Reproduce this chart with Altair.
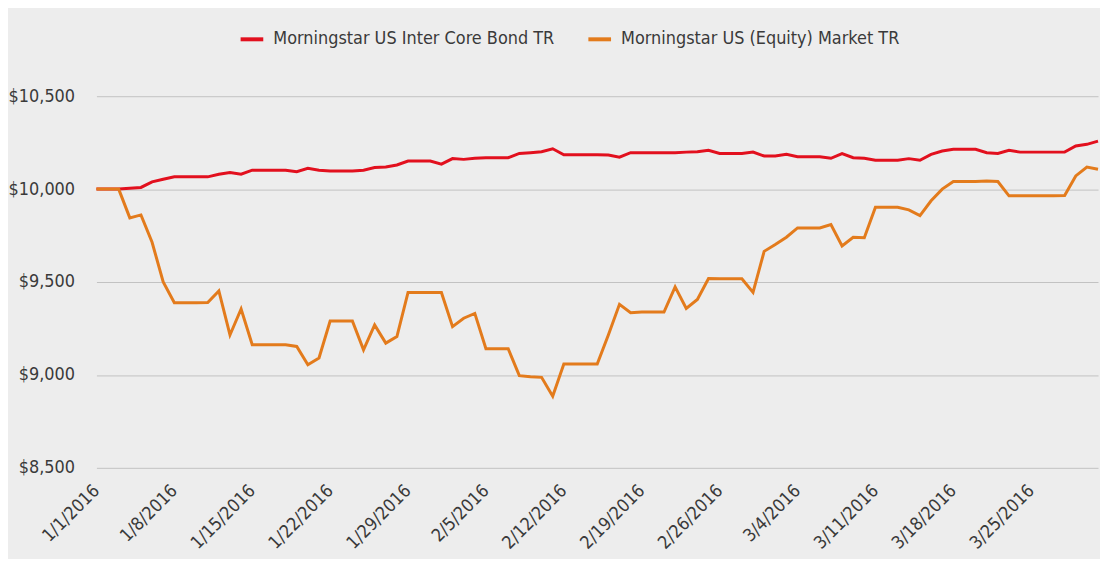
import altair as alt
import pandas as pd

DATES = [
    "2016/01/01", "2016/01/02", "2016/01/03", "2016/01/04", "2016/01/05", "2016/01/06", "2016/01/07",
    "2016/01/08", "2016/01/09", "2016/01/10", "2016/01/11", "2016/01/12", "2016/01/13", "2016/01/14",
    "2016/01/15", "2016/01/16", "2016/01/17", "2016/01/18", "2016/01/19", "2016/01/20", "2016/01/21",
    "2016/01/22", "2016/01/23", "2016/01/24", "2016/01/25", "2016/01/26", "2016/01/27", "2016/01/28",
    "2016/01/29", "2016/01/30", "2016/01/31", "2016/02/01", "2016/02/02", "2016/02/03", "2016/02/04",
    "2016/02/05", "2016/02/06", "2016/02/07", "2016/02/08", "2016/02/09", "2016/02/10", "2016/02/11",
    "2016/02/12", "2016/02/13", "2016/02/14", "2016/02/15", "2016/02/16", "2016/02/17", "2016/02/18",
    "2016/02/19", "2016/02/20", "2016/02/21", "2016/02/22", "2016/02/23", "2016/02/24", "2016/02/25",
    "2016/02/26", "2016/02/27", "2016/02/28", "2016/02/29", "2016/03/01", "2016/03/02", "2016/03/03",
    "2016/03/04", "2016/03/05", "2016/03/06", "2016/03/07", "2016/03/08", "2016/03/09", "2016/03/10",
    "2016/03/11", "2016/03/12", "2016/03/13", "2016/03/14", "2016/03/15", "2016/03/16", "2016/03/17",
    "2016/03/18", "2016/03/19", "2016/03/20", "2016/03/21", "2016/03/22", "2016/03/23", "2016/03/24",
    "2016/03/25", "2016/03/26", "2016/03/27", "2016/03/28", "2016/03/29", "2016/03/30", "2016/03/31",
]

BOND = [
    10000, 10000, 10000, 10005, 10009, 10039, 10053,
    10066, 10066, 10066, 10066, 10080, 10089, 10080,
    10102, 10102, 10102, 10102, 10094, 10112, 10102,
    10098, 10098, 10098, 10102, 10116, 10119, 10130,
    10151, 10151, 10151, 10134, 10164, 10160, 10166,
    10169, 10169, 10169, 10192, 10196, 10201, 10217,
    10185, 10185, 10185, 10185, 10183, 10172, 10196,
    10196, 10196, 10196, 10196, 10199, 10201, 10209,
    10192, 10192, 10192, 10199, 10178, 10178, 10187,
    10174, 10174, 10174, 10166, 10191, 10169, 10166,
    10155, 10155, 10155, 10164, 10155, 10187, 10205,
    10214, 10214, 10214, 10196, 10192, 10209, 10199,
    10199, 10199, 10199, 10199, 10232, 10241, 10258,
]

EQUITY = [
    10000, 10000, 10000, 9845, 9861, 9714, 9500,
    9388, 9388, 9388, 9390, 9452, 9215, 9355,
    9162, 9162, 9162, 9162, 9153, 9055, 9091,
    9290, 9290, 9290, 9135, 9269, 9171, 9206,
    9444, 9444, 9444, 9444, 9260, 9305, 9331,
    9141, 9141, 9141, 8996, 8990, 8987, 8885,
    9059, 9059, 9059, 9059, 9215, 9380, 9335,
    9338, 9338, 9338, 9474, 9358, 9406, 9519,
    9517, 9517, 9517, 9444, 9665, 9702, 9741,
    9791, 9791, 9791, 9809, 9694, 9741, 9738,
    9902, 9902, 9902, 9888, 9857, 9937, 10000,
    10041, 10041, 10041, 10044, 10041, 9964, 9964,
    9964, 9964, 9964, 9966, 10071, 10119, 10107,
]

SERIES = ["Morningstar US Inter Core Bond TR", "Morningstar US (Equity) Market TR"]
COLORS = ["#e2101e", "#e37b1c"]
Y_TICKS = [8500, 9000, 9500, 10000, 10500]
X_TICK_DAYS = [(1, 1), (1, 8), (1, 15), (1, 22), (1, 29), (2, 5), (2, 12),
               (2, 19), (2, 26), (3, 4), (3, 11), (3, 18), (3, 25)]

FONT = "DejaVu Sans Condensed"
TEXT_COLOR = "#3a3a3a"

df = pd.concat([
    pd.DataFrame({"date": DATES, "value": BOND, "series": SERIES[0]}),
    pd.DataFrame({"date": DATES, "value": EQUITY, "series": SERIES[1]}),
], ignore_index=True)

color = alt.Color(
    "series:N",
    scale=alt.Scale(domain=SERIES, range=COLORS),
    sort=SERIES,
    legend=alt.Legend(
        title=None, orient="none", direction="horizontal",
        legendX=143, legendY=-71,
        symbolType="stroke", symbolSize=520, symbolStrokeWidth=4,
        labelFont=FONT, labelFontSize=18, labelColor=TEXT_COLOR,
        labelOffset=8, columnPadding=26, labelLimit=400,
    ),
)

x = alt.X(
    "date:T",
    scale=alt.Scale(domain=[alt.DateTime(year=2016, month=1, date=1),
                            alt.DateTime(year=2016, month=3, date=31)]),
    axis=alt.Axis(
        title=None, values=[alt.DateTime(year=2016, month=m, date=d) for m, d in X_TICK_DAYS],
        format="%-m/%-d/%Y", labelAngle=-45, labelAlign="right", labelBaseline="middle",
        labelPadding=20, ticks=False, domain=False, grid=False,
        labelFont=FONT, labelFontSize=18, labelColor=TEXT_COLOR, labelOverlap=False,
    ),
)
y = alt.Y(
    "value:Q",
    scale=alt.Scale(domain=[8500, 10500], nice=False, zero=False),
    axis=alt.Axis(
        title=None, values=Y_TICKS, format="$,.0f", ticks=False, domain=False,
        labelPadding=22, labelFont=FONT, labelFontSize=18, labelColor=TEXT_COLOR,
        gridColor="#c2c2c2", gridWidth=1,
    ),
)

base = alt.Chart(df)
bond = base.transform_filter(alt.datum.series == SERIES[0]).mark_line(strokeWidth=3).encode(x=x, y=y, color=color)
equity = base.transform_filter(alt.datum.series == SERIES[1]).mark_line(strokeWidth=3).encode(x=x, y=y, color=color)

chart = alt.layer(bond, equity).properties(
    width=1008, height=374,
    autosize=alt.AutoSizeParams(type="none"),
    padding={"left": 89, "top": 87, "right": 2, "bottom": 90},
    background="#ededed",
).configure_view(stroke=None)

chart.save("out.html", embed_options={"renderer": "svg", "actions": False})
